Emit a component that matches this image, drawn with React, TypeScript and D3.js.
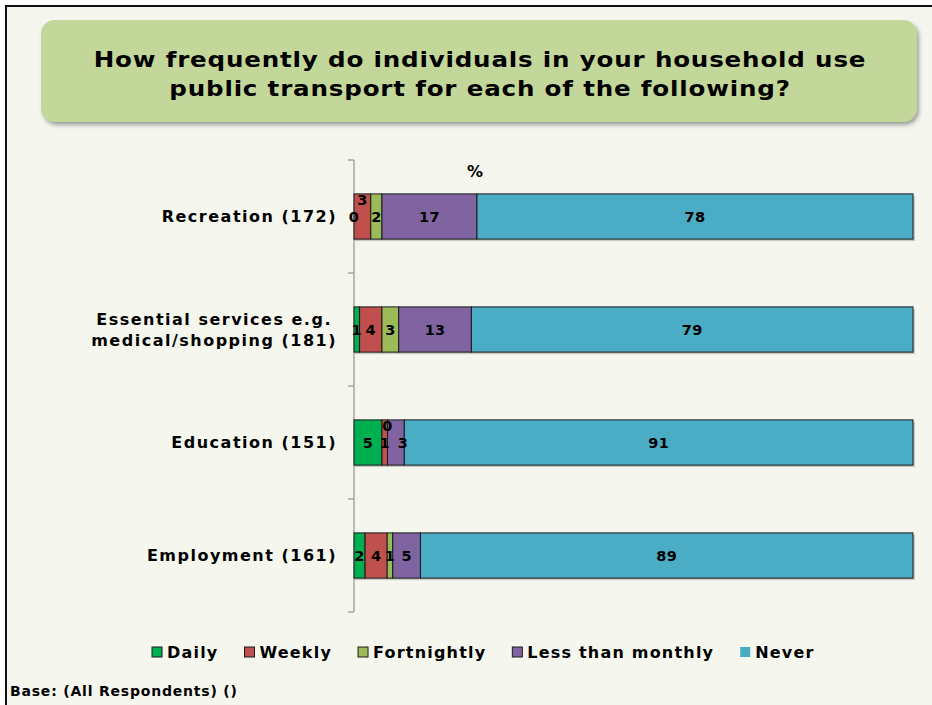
import React, { useEffect, useRef } from "react";
import * as d3 from "d3";

const categories = ["Recreation (172)", "Essential services e.g.|medical/shopping (181)", "Education (151)", "Employment (161)"];
const seriesNames = ["Daily", "Weekly", "Fortnightly", "Less than monthly", "Never"];
const colors = ["#00b050", "#c0504d", "#9bbb59", "#8064a2", "#4bacc6"];
const daily = [0, 1, 5, 2];
const weekly = [3, 4, 1, 4];
const fortnightly = [2, 3, 0, 1];
const lessThanMonthly = [17, 13, 3, 5];
const never = [78, 79, 91, 89];
const titleLines = ["How frequently do individuals in your household use", "public transport for each of the following?"];
const baseText = "Base: (All Respondents) ()";

const W = 932, H = 705;
const FONT = "'DejaVu Sans', Verdana, sans-serif";

export default function App() {
  const ref = useRef<SVGSVGElement>(null);
  useEffect(() => {
    const svg = d3.select(ref.current);
    svg.selectAll("*").remove();

    const defs = svg.append("defs");
    const f = defs.append("filter").attr("id", "sh").attr("x", "-5%").attr("y", "-10%").attr("width", "115%").attr("height", "130%");
    f.append("feDropShadow").attr("dx", 2).attr("dy", 3).attr("stdDeviation", 2).attr("flood-color", "#555").attr("flood-opacity", 0.55);

    svg.append("rect").attr("width", W).attr("height", H).attr("fill", "#ffffff");
    svg.append("rect").attr("x", 6).attr("y", 6).attr("width", W - 6).attr("height", H - 6).attr("fill", "#f5f7ef");
    svg.append("path").attr("d", `M6,${H} V6 H${W}`).attr("fill", "none").attr("stroke", "#111").attr("stroke-width", 2);

    // title box
    svg.append("rect").attr("x", 41).attr("y", 20).attr("width", 876).attr("height", 102).attr("rx", 14)
      .attr("fill", "#c4d79b").attr("filter", "url(#sh)");
    titleLines.forEach((t, i) => {
      svg.append("text").attr("x", 0).attr("y", 67 + i * 29).attr("text-anchor", "middle")
        .attr("transform", "translate(480,0) scale(1.17,1)")
        .attr("font-family", FONT).attr("font-weight", "bold").attr("font-size", 21).attr("letter-spacing", 0.7)
        .attr("fill", "#000").text(t);
    });

    const rows = categories.map((c, i) => ({
      cat: c, Daily: daily[i], Weekly: weekly[i], Fortnightly: fortnightly[i],
      "Less than monthly": lessThanMonthly[i], Never: never[i],
    }));
    const stack = d3.stack<any>().keys(seriesNames).offset(d3.stackOffsetExpand);
    const series = stack(rows);

    const x = d3.scaleLinear().domain([0, 1]).range([354, 913]);
    const y = d3.scaleBand().domain(categories).range([160, 612]).paddingInner(0.6).paddingOuter(0.3);

    // axis
    const g = svg.append("g");
    g.append("line").attr("x1", 354).attr("x2", 354).attr("y1", 160).attr("y2", 612).attr("stroke", "#a6a6a6").attr("stroke-width", 1.5);
    const step = y.step();
    d3.range(categories.length + 1).forEach((i) => {
      const yy = 160 + i * step;
      g.append("line").attr("x1", 348).attr("x2", 354).attr("y1", yy).attr("y2", yy).attr("stroke", "#a6a6a6").attr("stroke-width", 1.5);
    });

    // shadows
    categories.forEach((c) => {
      g.append("rect").attr("x", x(0) + 1).attr("y", y(c)! + 2).attr("width", x(1) - x(0) + 1).attr("height", y.bandwidth())
        .attr("fill", "#999").attr("opacity", 0.5);
    });

    series.forEach((s, si) => {
      g.selectAll(null).data(s).enter().append("rect")
        .attr("x", (d) => x(d[0])).attr("y", (d: any) => y(d.data.cat)!)
        .attr("width", (d) => x(d[1]) - x(d[0])).attr("height", y.bandwidth())
        .attr("fill", colors[si]).attr("stroke", "#1a1a1a").attr("stroke-width", 1);
    });

    // data labels with simple collision avoidance
    const digitW = 10.4;
    const raise = 17;
    const pad = 3;
    categories.forEach((c, ci) => {
      const cy = y(c)! + y.bandwidth() / 2;
      const placed: { l: number; r: number; dy: number }[] = [];
      const hits = (l: number, r: number, dy: number) => placed.some((p) => p.dy === dy && l < p.r + pad && r > p.l - pad);
      series.forEach((s) => {
        const d = s[ci];
        const v = (d.data as any)[s.key] as number;
        let cx = (x(d[0]) + x(d[1])) / 2;
        const w = String(v).length * digitW;
        let dy = 0;
        if (hits(cx - w / 2, cx + w / 2, 0)) {
          if (!hits(cx - w / 2, cx + w / 2, -raise)) {
            dy = -raise;
          } else {
            const maxR = Math.max(...placed.map((p) => p.r));
            cx = maxR + w / 2 + pad + 2;
          }
        }
        placed.push({ l: cx - w / 2, r: cx + w / 2, dy });
        g.append("text").attr("x", cx).attr("y", cy + dy).attr("dy", "0.36em").attr("text-anchor", "middle")
          .attr("font-family", FONT).attr("font-weight", "bold").attr("font-size", 14.5).attr("letter-spacing", 0.3)
          .attr("fill", "#000").text(v);
      });
    });

    // category labels
    categories.forEach((c) => {
      const lines = c.split("|");
      const cy = y(c)! + y.bandwidth() / 2;
      const grp = g.append("g");
      const texts = lines.map((ln, li) =>
        grp.append("text").attr("y", cy + (li - (lines.length - 1) / 2) * 21).attr("dy", "0.36em")
          .attr("font-family", FONT).attr("font-weight", "bold").attr("font-size", 16).attr("letter-spacing", 1.5)
          .attr("fill", "#000").attr("text-anchor", "middle").text(ln)
      );
      const widths = texts.map((t) => (t.node() as SVGTextElement).getComputedTextLength());
      const maxW = Math.max(...widths);
      texts.forEach((t) => t.attr("x", 337 - maxW / 2));
    });

    // % axis title
    svg.append("text").attr("x", 475).attr("y", 177).attr("text-anchor", "middle")
      .attr("font-family", FONT).attr("font-weight", "bold").attr("font-size", 16).text("%");

    // legend
    const legend = svg.append("g");
    let lx = 152;
    seriesNames.forEach((n, i) => {
      legend.append("rect").attr("x", lx).attr("y", 647).attr("width", 10).attr("height", 10)
        .attr("fill", colors[i]).attr("stroke", i === 4 ? "none" : "#1a1a1a").attr("stroke-width", 1);
      const t = legend.append("text").attr("x", lx + 15).attr("y", 658)
        .attr("font-family", FONT).attr("font-weight", "bold").attr("font-size", 16).attr("letter-spacing", 1.2)
        .attr("fill", "#000").text(n);
      const tw = (t.node() as SVGTextElement).getComputedTextLength();
      lx = lx + 15 + tw + 26;
    });

    svg.append("text").attr("x", 10).attr("y", 696)
      .attr("font-family", FONT).attr("font-weight", "bold").attr("font-size", 14).attr("letter-spacing", 0.8)
      .attr("fill", "#000").text(baseText);
  }, []);
  return (
    <svg ref={ref} width={W} height={H} style={{ position: "absolute", left: 0, top: 0, display: "block" }} />
  );
}
